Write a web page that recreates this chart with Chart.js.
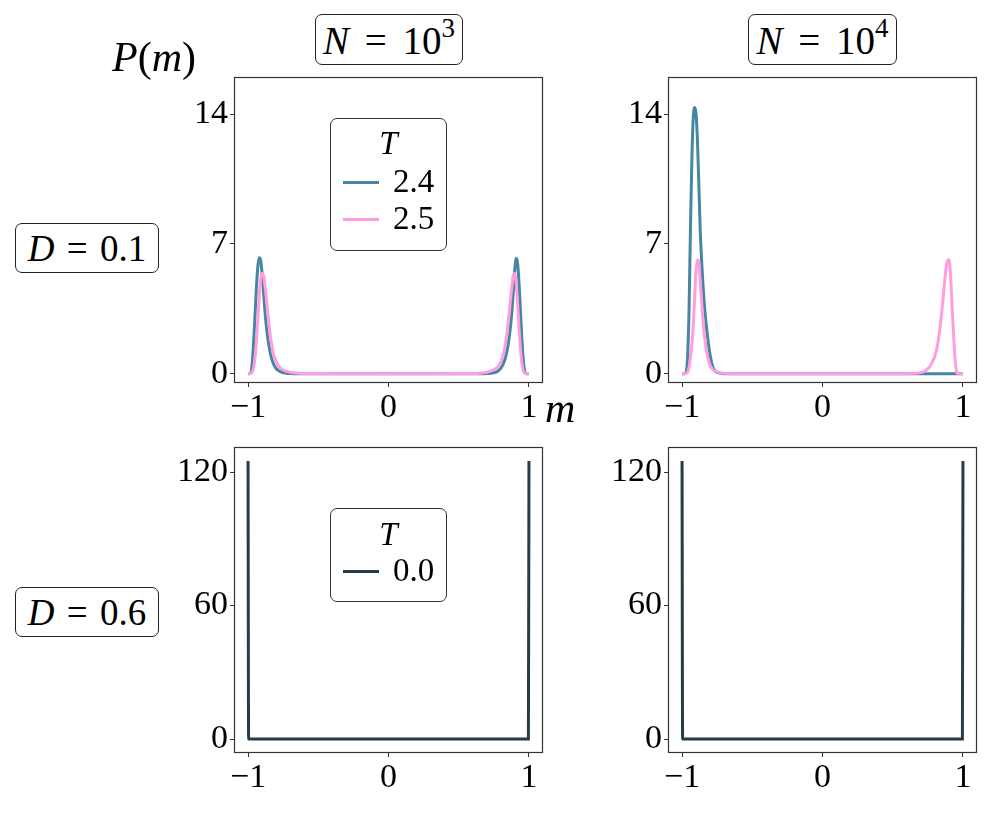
<!DOCTYPE html>
<html lang="en">
<head>
  <meta charset="UTF-8" />
  <title>P(m) panels</title>
  <script src="https://cdn.jsdelivr.net/npm/chart.js"></script>
  <style>
    body { margin: 0; background: #fff; }
    #fig { position: relative; width: 997px; height: 815px; font-family: "Liberation Serif", serif; color: #000; }
    #fig canvas { position: absolute; }
    .tag {
      position: absolute; display: flex; align-items: center; justify-content: center;
      border: 1.3px solid #222; border-radius: 7px; font-size: 37px; box-sizing: border-box;
      word-spacing: 3px;
    }
    .tag.n { font-size: 39px; word-spacing: 6px; }
    .tag sup { font-size: 27px; position: relative; top: -3px; }
    .lab { position: absolute; font-size: 42px; line-height: 1; }
    .legend { position: absolute; border: 1.3px solid #333; border-radius: 7px; box-sizing: border-box; background: #fff; }
    .legend .title { position: absolute; left: 0; right: 0; text-align: center; font-style: italic; font-size: 33px; line-height: 1; }
    .legend .row { position: absolute; left: 0; right: 0; height: 0; }
    .legend .swatch { position: absolute; left: 12px; width: 36px; height: 3px; top: -1.5px; }
    .legend .txt { position: absolute; left: 62px; top: -17px; font-size: 33px; line-height: 1; }
    i { font-style: italic; }
  </style>
</head>
<body>
<div id="fig">
  <canvas id="c1" width="399" height="376"></canvas>
  <canvas id="c2" width="399" height="376"></canvas>
  <canvas id="c3" width="399" height="376"></canvas>
  <canvas id="c4" width="399" height="376"></canvas>

  <div class="tag n" style="left:315px; top:14px; width:148px; height:51px;"><span><i>N</i> = 10<sup>3</sup></span></div>
  <div class="tag n" style="left:748px; top:14px; width:149px; height:51px;"><span><i>N</i> = 10<sup>4</sup></span></div>
  <div class="tag" style="left:15px; top:223px; width:144px; height:50px;"><span><i>D</i> = 0.1</span></div>
  <div class="tag" style="left:15px; top:587px; width:144px; height:50px;"><span><i>D</i> = 0.6</span></div>
  <div class="lab" style="left:112px; top:36px;"><i>P</i>(<i>m</i>)</div>
  <div class="lab" style="left:545px; top:387px;"><i>m</i></div>

  <div class="legend" id="leg1" style="left:330px; top:118px; width:117px; height:133px;"></div>
  <div class="legend" id="leg2" style="left:330px; top:508px; width:117px; height:94px;"></div>
</div>

<script>
  // magnetisation grid (denser near the peaks)
  const m = [-1, -0.99, -0.98, -0.97, -0.96, -0.95, -0.94, -0.93, -0.92, -0.91, -0.90, -0.89, -0.88, -0.87, -0.86, -0.85, -0.84,
             -0.82, -0.80, -0.78, -0.76, -0.73, -0.70, -0.65, -0.60,
             0,
             0.60, 0.65, 0.70, 0.73, 0.76, 0.78, 0.80, 0.82,
             0.84, 0.85, 0.86, 0.87, 0.88, 0.89, 0.90, 0.91, 0.92, 0.93, 0.94, 0.95, 0.96, 0.97, 0.98, 0.99, 1];

  // D = 0.1, N = 10^3
  const pN3T24 = [0, 0, 0.05, 0.6, 1.7, 3.2, 4.7, 5.8, 6.25, 6.1, 5.4, 4.4, 3.4, 2.6, 1.95, 1.45, 1.05,
                  0.55, 0.28, 0.16, 0.08, 0.03, 0.01, 0, 0,
                  0,
                  0, 0, 0.01, 0.03, 0.07, 0.15, 0.3, 0.58,
                  1.1, 1.5, 2.0, 2.65, 3.5, 4.6, 5.7, 6.23, 5.9, 4.8, 3.3, 1.8, 0.7, 0.1, 0, 0, 0];
  const pN3T25 = [0, 0, 0.02, 0.1, 0.35, 0.9, 1.8, 3.0, 4.2, 5.1, 5.42, 5.3, 4.8, 4.1, 3.3, 2.6, 1.95,
                  1.1, 0.65, 0.4, 0.25, 0.14, 0.08, 0.03, 0.01,
                  0,
                  0.01, 0.03, 0.08, 0.15, 0.26, 0.4, 0.66, 1.1,
                  1.95, 2.6, 3.3, 4.1, 4.8, 5.35, 5.4, 4.8, 3.7, 2.4, 1.3, 0.55, 0.15, 0.03, 0, 0, 0];

  // D = 0.1, N = 10^4
  const pN4T24 = [0, 0, 0, 0.1, 1.0, 3.5, 7.9, 11.6, 13.8, 14.35, 14.0, 12.5, 10.1, 7.6, 6.0, 4.7, 3.6,
                  2.1, 1.0, 0.35, 0.12, 0.03, 0, 0, 0,
                  0,
                  0, 0, 0, 0, 0, 0, 0, 0,
                  0, 0, 0, 0, 0, 0, 0, 0, 0, 0, 0, 0, 0, 0, 0, 0, 0];
  const pN4T25 = [0, 0, 0, 0.03, 0.1, 0.35, 0.9, 1.6, 2.6, 4.2, 5.6, 6.15, 5.9, 4.9, 3.8, 2.8, 2.0,
                  1.0, 0.45, 0.22, 0.12, 0.05, 0.02, 0, 0,
                  0,
                  0, 0.02, 0.06, 0.15, 0.35, 0.6, 0.95, 1.6,
                  2.7, 3.4, 4.2, 5.0, 5.7, 6.1, 6.15, 5.5, 4.0, 2.6, 1.2, 0.3, 0.02, 0, 0, 0, 0];

  // D = 0.6, T = 0 (both N)
  const mT0 = [-1, -0.996, 0.996, 1];
  const pT0 = [125, 0, 0, 125];

  const mTicks = [-1, 0, 1];
  const yTicksTop = [0, 7, 14];
  const yTicksBottom = [0, 60, 120];
  const tempsTop = ['2.4', '2.5'];
  const tempsBottom = ['0.0'];

  const BLUE = '#4786a2', PINK = '#ff9ddf', DARK = '#263d48';

  const PAD_L = 70, PAD_T = 10, PAD_R = 20, AX_H = 60;
  const tickFont = { family: 'Liberation Serif', size: 34 };

  const pts = (xs, ys) => xs.map((x, i) => ({ x: x, y: ys[i] }));
  const fmt = v => v < 0 ? '\u2212' + Math.abs(v) : String(v);

  const frame = {
    id: 'frame',
    afterDraw(c) {
      const a = c.chartArea, ctx = c.ctx;
      ctx.save();
      ctx.strokeStyle = '#333';
      ctx.lineWidth = 1.2;
      ctx.strokeRect(a.left + 0.5, a.top + 0.5, a.right - a.left - 1, a.bottom - a.top - 1);
      ctx.restore();
    }
  };

  function panel(id, left, top, datasets, yMin, yMax, yTicks) {
    const cv = document.getElementById(id);
    cv.style.left = (left - PAD_L) + 'px';
    cv.style.top = (top - PAD_T) + 'px';
    return new Chart(cv, {
      type: 'line',
      data: { datasets: datasets },
      options: {
        responsive: false,
        animation: false,
        devicePixelRatio: 1,
        layout: { padding: { left: 0, right: PAD_R, top: PAD_T, bottom: 0 } },
        plugins: { legend: { display: false }, tooltip: { enabled: false } },
        elements: { point: { radius: 0 }, line: { borderWidth: 3, cubicInterpolationMode: 'monotone' } },
        scales: {
          x: {
            type: 'linear', min: -1.1, max: 1.1,
            afterBuildTicks: s => { s.ticks = mTicks.map(v => ({ value: v })); },
            afterFit: s => { s.height = AX_H; s.paddingLeft = 0; s.paddingRight = 0; },
            grid: { drawOnChartArea: false, tickLength: 4, color: '#333' },
            border: { display: false },
            ticks: { font: tickFont, color: '#000', padding: 1, maxRotation: 0, callback: fmt }
          },
          y: {
            type: 'linear', min: yMin, max: yMax,
            afterBuildTicks: s => { s.ticks = yTicks.map(v => ({ value: v })); },
            afterFit: s => { s.width = PAD_L; s.paddingTop = 0; s.paddingBottom = 0; },
            grid: { drawOnChartArea: false, tickLength: 4, color: '#333' },
            border: { display: false },
            ticks: { font: tickFont, color: '#000', padding: 2, callback: fmt }
          }
        }
      },
      plugins: [frame]
    });
  }

  const line = (label, xs, ys, color, order) => ({
    label: label, data: pts(xs, ys), borderColor: color, backgroundColor: color, order: order, fill: false
  });

  panel('c1', 234, 77, [
    line(tempsTop[0], m, pN3T24, BLUE, 1),
    line(tempsTop[1], m, pN3T25, PINK, 0)
  ], -0.5, 16, yTicksTop);

  panel('c2', 668, 77, [
    line(tempsTop[0], m, pN4T24, BLUE, 1),
    line(tempsTop[1], m, pN4T25, PINK, 0)
  ], -0.5, 16, yTicksTop);

  panel('c3', 234, 447, [
    line(tempsBottom[0], mT0, pT0, DARK, 0)
  ], -6.25, 131.25, yTicksBottom);

  panel('c4', 668, 447, [
    line(tempsBottom[0], mT0, pT0, DARK, 0)
  ], -6.25, 131.25, yTicksBottom);

  // legends inside the left panels
  function legend(id, labels, colors, titleTop, firstRow) {
    const box = document.getElementById(id);
    const t = document.createElement('div');
    t.className = 'title';
    t.style.top = titleTop + 'px';
    t.textContent = 'T';
    box.appendChild(t);
    labels.forEach((lab, i) => {
      const row = document.createElement('div');
      row.className = 'row';
      row.style.top = (firstRow + 37 * i) + 'px';
      row.innerHTML = '<span class="swatch" style="background:' + colors[i] + '"></span><span class="txt">' + lab + '</span>';
      box.appendChild(row);
    });
  }
  legend('leg1', tempsTop, [BLUE, PINK], 8, 63);
  legend('leg2', tempsBottom, [DARK], 9, 62);
</script>
</body>
</html>
